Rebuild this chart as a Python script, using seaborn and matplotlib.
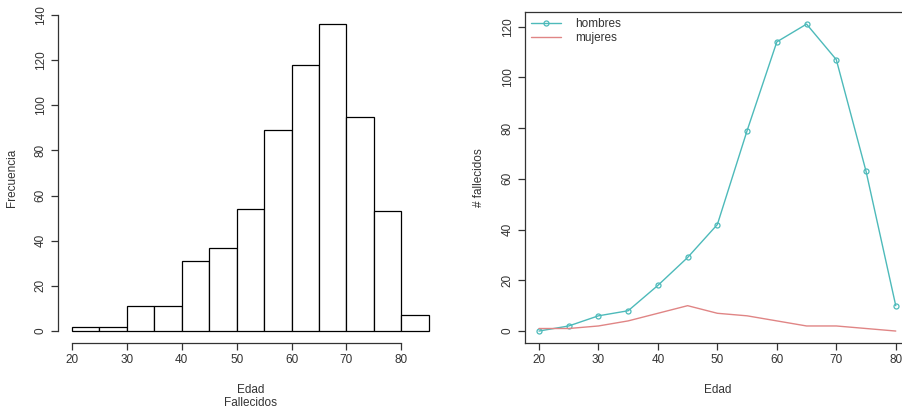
import numpy as np
import pandas as pd
import matplotlib
matplotlib.use("Agg")
import matplotlib.pyplot as plt
import seaborn as sns

# histogram data (bins of 5 years)
bin_edges = [20, 25, 30, 35, 40, 45, 50, 55, 60, 65, 70, 75, 80, 85]
frecuencia = [2, 2, 11, 11, 31, 37, 54, 89, 118, 136, 95, 53, 7]

# deaths by age and sex
edades = [20, 25, 30, 35, 40, 45, 50, 55, 60, 65, 70, 75, 80]
hombres = [0, 2, 6, 8, 18, 29, 42, 79, 114, 121, 107, 63, 10]
mujeres = [1, 1, 2, 4, 7, 10, 7, 6, 4, 2, 2, 1, 0]

sns.set_style("white")
plt.rcParams['font.family'] = ['Liberation Sans', 'DejaVu Sans']
plt.rcParams['font.size'] = 8

ink = '#333333'
col_h = '#4DBABA'
col_m = '#E08585'

fig = plt.figure(figsize=(9.02, 4.12), dpi=100)
ax1 = fig.add_axes([0.064, 0.1667, 0.4272, 0.8046])
ax2 = fig.add_axes([0.5817, 0.1667, 0.4272, 0.8046])

# left: histogram
hist_df = pd.DataFrame({"edad": bin_edges[:-1], "n": frecuencia})
sns.histplot(data=hist_df, x="edad", weights="n", bins=bin_edges, ax=ax1,
             color="white", edgecolor="black", linewidth=0.9, alpha=1)
ax1.set_xlim(17.4, 87.6)
ax1.set_ylim(-5.44, 141.44)
for s in ["top", "right"]:
    ax1.spines[s].set_visible(False)
ax1.spines["left"].set_bounds(0, 140)
ax1.spines["bottom"].set_bounds(20, 80)
for s in ["left", "bottom"]:
    ax1.spines[s].set_color(ink)
    ax1.spines[s].set_linewidth(0.9)
ax1.set_xticks(range(20, 81, 10))
ax1.set_yticks(range(0, 141, 20))
ax1.set_yticklabels([str(v) for v in range(0, 141, 20)], rotation=90, va="center")
ax1.tick_params(axis="both", length=5, width=0.9, color=ink, labelcolor=ink,
                labelsize=8.5, left=True, bottom=True, pad=3)
ax1.set_xlabel("Edad\nFallecidos", color=ink, fontsize=8.5, labelpad=13, linespacing=1.05)
ax1.set_ylabel("Frecuencia", color=ink, fontsize=8.5, labelpad=12)

# right: lines
df = pd.DataFrame({"edad": edades * 2,
                   "n": hombres + mujeres,
                   "sexo": ["hombres"] * len(edades) + ["mujeres"] * len(edades)})
sns.lineplot(data=df[df.sexo == "hombres"], x="edad", y="n", ax=ax2, color=col_h,
             linewidth=1, marker="o", markersize=3.6, markerfacecolor="none",
             markeredgecolor=col_h, markeredgewidth=0.9, label="hombres")
sns.lineplot(data=df[df.sexo == "mujeres"], x="edad", y="n", ax=ax2, color=col_m,
             linewidth=1, label="mujeres")
ax2.set_xlim(17.6, 82.4)
ax2.set_ylim(-4.84, 125.84)
for s in ax2.spines.values():
    s.set_color(ink)
    s.set_linewidth(0.9)
ax2.set_xticks(range(20, 81, 10))
ax2.set_yticks(range(0, 121, 20))
ax2.set_yticklabels([str(v) for v in range(0, 121, 20)], rotation=90, va="center")
ax2.tick_params(axis="both", length=5, width=0.9, color=ink, labelcolor=ink,
                labelsize=8.5, left=True, bottom=True, pad=3)
ax2.set_xlabel("Edad", color=ink, fontsize=8.5, labelpad=13)
ax2.set_ylabel("# fallecidos", color=ink, fontsize=8.5, labelpad=12)
leg = ax2.legend(loc="upper left", frameon=False, fontsize=8.5, handlelength=2.6,
                 handletextpad=1.2, labelspacing=0.2, borderaxespad=0.3,
                 borderpad=0.2)
for t in leg.get_texts():
    t.set_color(ink)

fig.savefig("out.png", dpi=100)
